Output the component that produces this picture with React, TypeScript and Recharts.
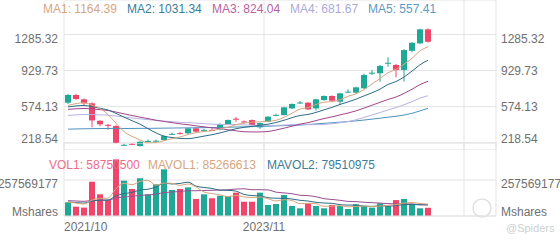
import React from 'react';
import { ComposedChart, Bar, Line, XAxis, YAxis, CartesianGrid, ReferenceLine, Cell } from 'recharts';

// ---------- data ----------
const months = [
  '2021/10', '2021/11', '2021/12',
  '2022/01', '2022/02', '2022/03', '2022/04', '2022/05', '2022/06', '2022/07', '2022/08', '2022/09', '2022/10', '2022/11', '2022/12',
  '2023/01', '2023/02', '2023/03', '2023/04', '2023/05', '2023/06', '2023/07', '2023/08', '2023/09', '2023/10', '2023/11', '2023/12',
  '2024/01', '2024/02', '2024/03', '2024/04', '2024/05', '2024/06', '2024/07', '2024/08', '2024/09', '2024/10', '2024/11', '2024/12',
  '2025/01', '2025/02', '2025/03', '2025/04', '2025/05', '2025/06', '2025/07', '2025/08', '2025/09', '2025/10', '2025/11', '2025/12',
  '2026/01', '2026/02', '2026/03',
];
const xTickLabels = ['2021/10', '2023/11'];
const gridMonths = ['2021/10', '2023/11', '2025/12'];

const opens = [613, 689, 646, 607, 435, 395, 383, 194, 208, 186, 232, 234, 245, 302, 313, 311, 360, 341, 345, 350, 403, 455, 428, 442, 370, 425, 489, 491, 557, 610, 613, 557, 639, 679, 623, 718, 712, 755, 902, 903, 1003, 985, 936, 1125, 1198, 1336];
const highs = [700, 700, 655, 615, 440, 405, 390, 210, 215, 232, 250, 250, 290, 318, 325, 365, 366, 356, 360, 410, 448, 472, 438, 448, 418, 480, 505, 572, 606, 630, 620, 652, 685, 686, 710, 745, 770, 900, 935, 985, 1060, 995, 1140, 1210, 1342, 1346];
const lows = [600, 640, 590, 370, 380, 345, 210, 188, 195, 180, 225, 228, 240, 296, 300, 305, 320, 330, 336, 340, 398, 425, 410, 388, 355, 420, 480, 486, 550, 600, 540, 535, 632, 625, 590, 712, 705, 748, 886, 820, 967, 863, 820, 1110, 1190, 1205];
const closes = [689, 649, 607, 438, 400, 388, 218, 198, 202, 228, 236, 238, 284, 306, 309, 360, 327, 345, 341, 403, 442, 448, 423, 393, 412, 475, 493, 567, 600, 615, 547, 646, 679, 632, 705, 722, 764, 886, 909, 975, 1007, 936, 1132, 1204, 1336, 1214];

const ma1 = [586, 604, 613, 589, 556.6, 496.4, 410.2, 328.4, 281.2, 246.8, 216.4, 220.4, 237.6, 258.4, 274.6, 299.4, 317.2, 329.4, 336.4, 355.2, 371.6, 395.8, 411.4, 421.8, 423.6, 430.2, 439.2, 468, 509.4, 550, 564.4, 595, 617.4, 623.8, 641.8, 676.8, 700.4, 741.8, 797.2, 851.2, 908.2, 942.6, 991.8, 1050.8, 1123, 1164.39];
const ma2 = [572, 581, 586, 574, 558, 541, 507, 471, 435, 401.7, 356.4, 315.3, 283, 269.8, 260.7, 257.9, 268.8, 283.5, 297.4, 314.9, 335.5, 356.5, 370.4, 379.1, 389.4, 400.9, 417.5, 439.7, 465.6, 486.8, 497.3, 517.1, 542.7, 566.6, 595.9, 620.6, 647.7, 679.6, 710.5, 746.5, 792.5, 821.5, 866.8, 924, 987.1, 1031.34];
const ma3 = [547.5, 552.9, 556.3, 551.2, 544.2, 536.6, 520.5, 503.4, 486.5, 470.9, 455.7, 440.6, 427.8, 416.1, 404.5, 395.5, 384.9, 375.1, 365.2, 358.3, 346, 335.9, 326.7, 324.5, 325.1, 329.4, 343.2, 361.6, 381.5, 400.9, 416.4, 436.8, 456.6, 472.9, 492.7, 510.8, 532.6, 559.7, 588.1, 616.7, 644.9, 669.3, 704.8, 745.3, 791.5, 824.04];
const ma4 = [487.2, 492.8, 497, 495.6, 492.9, 489.8, 481.1, 471.7, 462.4, 454, 445.9, 437.8, 431.3, 425.5, 419.8, 415.8, 410.7, 406.2, 401.6, 399, 397.7, 396.6, 394.7, 391.8, 389.5, 389.3, 389.7, 392.6, 396.6, 401.1, 396.4, 396.3, 398.7, 405.2, 415.3, 426.5, 444.7, 467.6, 491.2, 516.1, 541.8, 565, 593.3, 623.2, 657.5, 681.67];
const ma5 = [352, 354, 356, 357, 358, 359, 359, 359, 359, 360, 360, 361, 362, 363, 364, 365, 366, 367, 368, 369, 371, 373, 375, 377, 379, 381, 384, 387, 390, 393, 398, 404, 410, 415, 421, 427, 434, 442, 451, 460, 470, 479, 491, 508, 532, 557.41];

const volumes = [98e6, 67e6, 60e6, 245e6, 155e6, 114e6, 405e6, 253e6, 193e6, 270e6, 155e6, 227e6, 334e6, 186e6, 193e6, 205e6, 122e6, 155e6, 127e6, 145e6, 143e6, 167e6, 102e6, 102e6, 167e6, 79e6, 86e6, 150e6, 72e6, 55e6, 91e6, 72e6, 55e6, 79e6, 72e6, 50e6, 84e6, 72e6, 60e6, 91e6, 72e6, 114e6, 122e6, 84e6, 55e6, 58750500];
const mavol1 = [99.6e6, 93e6, 85e6, 114e6, 125e6, 128.2e6, 195.8e6, 234.4e6, 224e6, 247e6, 255.2e6, 219.6e6, 235.8e6, 234.4e6, 219e6, 229e6, 208e6, 172.2e6, 160.4e6, 150.8e6, 138.4e6, 147.4e6, 136.8e6, 131.8e6, 136.2e6, 123.4e6, 107.2e6, 116.8e6, 110.8e6, 88.4e6, 90.8e6, 88e6, 69e6, 70.4e6, 73.8e6, 65.6e6, 68e6, 71.4e6, 67.6e6, 71.4e6, 75.8e6, 81.8e6, 91.8e6, 96.6e6, 89.4e6, 85266613];
const mavol2 = [99.8e6, 96.5e6, 92.5e6, 107e6, 112.5e6, 113.9e6, 144.4e6, 159.7e6, 169e6, 186e6, 191.7e6, 207.7e6, 235.1e6, 229.2e6, 233e6, 242.1e6, 213.8e6, 204e6, 197.4e6, 184.9e6, 183.7e6, 177.7e6, 154.5e6, 146.1e6, 143.5e6, 130.9e6, 127.3e6, 126.8e6, 121.3e6, 112.3e6, 107.1e6, 97.6e6, 92.9e6, 90.6e6, 81.1e6, 78.2e6, 78e6, 70.2e6, 69e6, 72.6e6, 70.7e6, 74.9e6, 81.6e6, 82.1e6, 80.4e6, 79510975];
const mavol3 = [109.5e6, 107.4e6, 104.9e6, 111.7e6, 113.9e6, 114.1e6, 128.8e6, 136e6, 140.1e6, 148.1e6, 150.4e6, 156.2e6, 167.4e6, 171.2e6, 175.4e6, 180.1e6, 180.7e6, 182.9e6, 183.8e6, 185.5e6, 187.7e6, 192.7e6, 194.8e6, 187.7e6, 188.3e6, 186.5e6, 170.6e6, 165.4e6, 159.4e6, 148.6e6, 145.4e6, 137.7e6, 123.7e6, 118.4e6, 112.3e6, 104.6e6, 102.7e6, 98.5e6, 95.2e6, 92.5e6, 88.9e6, 86.3e6, 87.3e6, 86.4e6, 80.8e6, 79.8e6];

const priceTicks = [218.54, 574.13, 929.73, 1285.32];
const priceDomain = [146.6, 1625.5];
const volTicks = [0, 257569177];
const volDomain = [0, 522293053];

// ---------- styles ----------
const W = 560;
const AXIS_W = 64;
const PLOT_W = W - AXIS_W * 2;
const BAND_HALF = PLOT_W / months.length / 2;
const FONT = 'Arial, "Liberation Sans", sans-serif';
const GRID = '#e3e3e3';
const AXIS_TEXT = '#6f6f6f';
const GREEN = '#1fa896';
const RED = '#f0456a';
const C_MA1 = '#d7a67f';
const C_MA2 = '#2f6e86';
const C_MA3 = '#a1468e';
const C_MA4 = '#b7b3e3';
const C_MA5 = '#4f93bd';
const C_VOL_TEXT = '#f06b86';
const C_MAVOL3 = '#9a4f92';

const rows = months.map((m, i) => {
  const has = i < closes.length;
  return {
    date: m,
    open: has ? opens[i] : null,
    high: has ? highs[i] : null,
    low: has ? lows[i] : null,
    close: has ? closes[i] : null,
    range: has ? [lows[i], highs[i]] : null,
    ma1: has ? ma1[i] : null,
    ma2: has ? ma2[i] : null,
    ma3: has ? ma3[i] : null,
    ma4: has ? ma4[i] : null,
    ma5: has ? ma5[i] : null,
    volume: has ? volumes[i] : null,
    mavol1: has ? mavol1[i] : null,
    mavol2: has ? mavol2[i] : null,
    mavol3: has ? mavol3[i] : null,
  };
});

const Candle = (props: any) => {
  const { x, y, width, height, payload } = props;
  if (!payload || payload.open == null || x == null) return null;
  const { open, close, high, low } = payload;
  const color = close >= open ? GREEN : RED;
  const top = Math.min(y, y + height);
  const h = Math.abs(height);
  const k = h / (high - low || 1);
  const yOf = (v: number) => top + (high - v) * k;
  const bTop = yOf(Math.max(open, close));
  const bBot = yOf(Math.min(open, close));
  const cx = x + width / 2;
  return (
    <g>
      <line x1={cx} x2={cx} y1={top} y2={top + h} stroke={color} strokeWidth={1} />
      <rect x={x} y={bTop} width={width} height={Math.max(1, bBot - bTop)} fill={color} />
    </g>
  );
};

const makeYTick = (side: 'left' | 'right', ticks: number[], fmt: (v: number) => string) => (props: any) => {
  const { y, payload } = props;
  const v = payload.value;
  const idx = ticks.indexOf(v);
  let dy = 4;
  if (idx === ticks.length - 1) dy = 8;
  if (idx === 0) dy = 0;
  return (
    <text
      x={side === 'left' ? AXIS_W - 6 : W - AXIS_W + 5}
      y={y + dy}
      textAnchor={side === 'left' ? 'end' : 'start'}
      fontSize={12}
      fontFamily={FONT}
      fill={AXIS_TEXT}
    >
      {fmt(v)}
    </text>
  );
};

const priceFmt = (v: number) => v.toFixed(2);
const volFmt = (v: number) => (v === 0 ? 'Mshares' : String(v));

const XTick = (props: any) => {
  const { x, payload } = props;
  const first = payload.value === months[0];
  return (
    <text
      x={x - BAND_HALF}
      y={88}
      textAnchor={first ? 'start' : 'middle'}
      fontSize={12}
      fontFamily={FONT}
      fill={AXIS_TEXT}
    >
      {payload.value}
    </text>
  );
};

const legendMA = [
  { label: 'MA1', value: ma1[ma1.length - 1].toFixed(2), color: C_MA1, left: 43 },
  { label: 'MA2', value: ma2[ma2.length - 1].toFixed(2), color: '#3c7d98', left: 127 },
  { label: 'MA3', value: ma3[ma3.length - 1].toFixed(2), color: '#b95f9f', left: 212 },
  { label: 'MA4', value: ma4[ma4.length - 1].toFixed(2), color: '#a9a9da', left: 290 },
  { label: 'MA5', value: ma5[ma5.length - 1].toFixed(2), color: '#5b9bc6', left: 368 },
];
const legendVol = [
  { label: 'VOL1', value: String(volumes[volumes.length - 1]), color: C_VOL_TEXT, left: 49 },
  { label: 'MAVOL1', value: String(mavol1[mavol1.length - 1]), color: C_MA1, left: 148 },
  { label: 'MAVOL2', value: String(mavol2[mavol2.length - 1]), color: '#3c7d98', left: 267 },
];

const vLines = (yId: string | number) => [
  ...gridMonths.map((m) => (
    <ReferenceLine key={m} x={m} position="start" stroke={GRID} strokeWidth={1} yAxisId={yId} ifOverflow="visible" />
  )),
  <ReferenceLine key="end" x={months[months.length - 1]} position="end" stroke={GRID} strokeWidth={1} yAxisId={yId} ifOverflow="visible" />,
];

export default function App() {
  return (
    <div style={{ position: 'absolute', left: 0, top: 0, width: W, height: 240, background: '#fff', fontFamily: FONT }}>
      <div style={{ position: 'absolute', left: 0, top: 0 }}>
        <ComposedChart width={W} height={150} data={rows} margin={{ top: 0, right: 0, bottom: 0, left: 0 }} barSize={6}>
          <CartesianGrid horizontal vertical={false} stroke={GRID} yAxisId="p" />
          <XAxis dataKey="date" hide />
          <YAxis yAxisId="p" orientation="left" width={AXIS_W} domain={priceDomain} ticks={priceTicks} allowDataOverflow axisLine={false} tickLine={false} tick={makeYTick('left', priceTicks, priceFmt)} interval={0} />
          <YAxis yAxisId="pr" orientation="right" width={AXIS_W} domain={priceDomain} ticks={priceTicks} allowDataOverflow axisLine={false} tickLine={false} tick={makeYTick('right', priceTicks, priceFmt)} interval={0} />
          {vLines('p')}
          <Bar yAxisId="p" dataKey="range" shape={<Candle />} isAnimationActive={false} />
          <Line yAxisId="p" dataKey="ma5" type="monotone" stroke={C_MA5} strokeWidth={1} dot={false} isAnimationActive={false} />
          <Line yAxisId="p" dataKey="ma4" type="monotone" stroke={C_MA4} strokeWidth={1} dot={false} isAnimationActive={false} />
          <Line yAxisId="p" dataKey="ma3" type="monotone" stroke={C_MA3} strokeWidth={1} dot={false} isAnimationActive={false} />
          <Line yAxisId="p" dataKey="ma2" type="monotone" stroke={C_MA2} strokeWidth={1} dot={false} isAnimationActive={false} />
          <Line yAxisId="p" dataKey="ma1" type="monotone" stroke={C_MA1} strokeWidth={1} dot={false} isAnimationActive={false} />
        </ComposedChart>
      </div>
      <div style={{ position: 'absolute', left: 0, top: 143 }}>
        <ComposedChart width={W} height={97} data={rows} margin={{ top: 0, right: 0, bottom: 0, left: 0 }} barSize={6}>
          <CartesianGrid horizontal vertical={false} stroke={GRID} yAxisId="v" />
          <XAxis dataKey="date" height={24} ticks={xTickLabels} interval={0} tickLine={false} axisLine={{ stroke: GRID }} tick={<XTick />} />
          <YAxis yAxisId="v" orientation="left" width={AXIS_W} domain={volDomain} ticks={volTicks} allowDataOverflow axisLine={false} tickLine={false} tick={makeYTick('left', volTicks, volFmt)} interval={0} />
          <YAxis yAxisId="vr" orientation="right" width={AXIS_W} domain={volDomain} ticks={volTicks} allowDataOverflow axisLine={false} tickLine={false} tick={makeYTick('right', volTicks, volFmt)} interval={0} />
          {vLines('v')}
          <Bar yAxisId="v" dataKey="volume" isAnimationActive={false}>
            {rows.map((r, i) => (
              <Cell key={i} fill={r.close != null && r.open != null && r.close >= r.open ? GREEN : RED} />
            ))}
          </Bar>
          <Line yAxisId="v" dataKey="mavol3" type="monotone" stroke={C_MAVOL3} strokeWidth={1} dot={false} isAnimationActive={false} />
          <Line yAxisId="v" dataKey="mavol2" type="monotone" stroke={C_MA2} strokeWidth={1} dot={false} isAnimationActive={false} />
          <Line yAxisId="v" dataKey="mavol1" type="monotone" stroke={C_MA1} strokeWidth={1} dot={false} isAnimationActive={false} />
        </ComposedChart>
      </div>
      {legendMA.map((l) => (
        <div key={l.label} style={{ position: 'absolute', left: l.left, top: 3, fontSize: 12, lineHeight: '13px', color: l.color, whiteSpace: 'nowrap' }}>
          {l.label}: {l.value}
        </div>
      ))}
      {legendVol.map((l) => (
        <div key={l.label} style={{ position: 'absolute', left: l.left, top: 159, fontSize: 12, lineHeight: '13px', color: l.color, whiteSpace: 'nowrap' }}>
          {l.label}: {l.value}
        </div>
      ))}
      <svg style={{ position: 'absolute', left: 0, top: 0 }} width={W} height={240}>
        <circle cx={482} cy={208} r={9} fill="none" stroke="#e2e2e2" strokeWidth={1.5} />
        <text x={506} y={232} fontSize={11} fontFamily={FONT} fill="#cfcfcf">@Spiders</text>
      </svg>
    </div>
  );
}
